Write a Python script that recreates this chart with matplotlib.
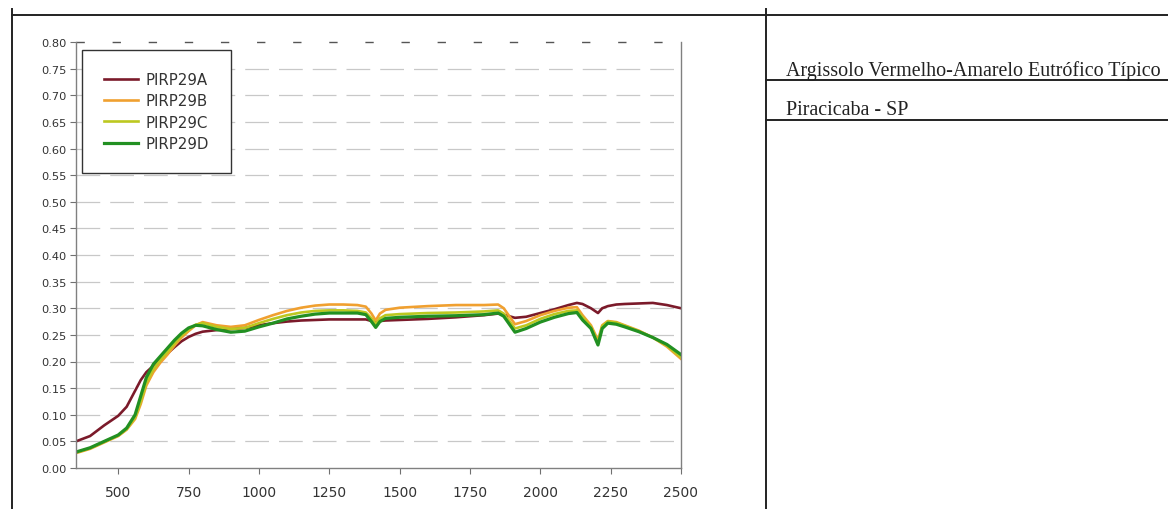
import matplotlib
matplotlib.use("Agg")
import matplotlib.pyplot as plt
from matplotlib.lines import Line2D

# ---------------- data ----------------
wavelength = [350, 400, 450, 500, 530, 560, 580, 600, 625, 650, 675, 700, 725, 750, 775, 800,
              850, 900, 950, 1000, 1050, 1100, 1150, 1200, 1250, 1300, 1350, 1380, 1400, 1415,
              1430, 1450, 1500, 1600, 1700, 1800, 1850, 1870, 1910, 1950, 2000, 2050, 2100, 2130,
              2150, 2180, 2205, 2220, 2240, 2270, 2300, 2350, 2400, 2450, 2500]

pirp29a = [0.050, 0.060, 0.080, 0.098, 0.115, 0.145, 0.165, 0.180, 0.192, 0.205, 0.215, 0.227,
           0.238, 0.246, 0.252, 0.256, 0.259, 0.261, 0.263, 0.268, 0.272, 0.275, 0.277, 0.278,
           0.279, 0.279, 0.279, 0.279, 0.276, 0.274, 0.276, 0.277, 0.278, 0.280, 0.283, 0.287,
           0.290, 0.288, 0.282, 0.284, 0.291, 0.298, 0.306, 0.310, 0.308, 0.300, 0.291, 0.300,
           0.304, 0.307, 0.308, 0.309, 0.310, 0.306, 0.300]

pirp29b = [0.028, 0.036, 0.048, 0.060, 0.072, 0.092, 0.120, 0.155, 0.180, 0.198, 0.213, 0.230,
           0.245, 0.257, 0.268, 0.274, 0.268, 0.265, 0.268, 0.278, 0.287, 0.295, 0.301, 0.305,
           0.307, 0.307, 0.306, 0.303, 0.290, 0.277, 0.290, 0.297, 0.301, 0.304, 0.306, 0.306,
           0.307, 0.300, 0.270, 0.276, 0.287, 0.295, 0.301, 0.302, 0.287, 0.268, 0.240, 0.268,
           0.276, 0.274, 0.268, 0.258, 0.245, 0.228, 0.205]

pirp29c = [0.029, 0.037, 0.049, 0.061, 0.073, 0.095, 0.125, 0.160, 0.186, 0.203, 0.218, 0.234,
           0.249, 0.260, 0.269, 0.272, 0.265, 0.261, 0.263, 0.272, 0.280, 0.287, 0.292, 0.295,
           0.296, 0.296, 0.295, 0.292, 0.281, 0.270, 0.281, 0.287, 0.289, 0.291, 0.292, 0.294,
           0.296, 0.290, 0.262, 0.268, 0.280, 0.289, 0.295, 0.296, 0.283, 0.265, 0.236, 0.266,
           0.275, 0.273, 0.267, 0.257, 0.245, 0.230, 0.208]

pirp29d = [0.030, 0.038, 0.050, 0.062, 0.075, 0.100, 0.135, 0.170, 0.195, 0.210, 0.225, 0.240,
           0.253, 0.263, 0.268, 0.267, 0.260, 0.255, 0.257, 0.265, 0.272, 0.280, 0.285, 0.289,
           0.291, 0.291, 0.291, 0.288, 0.275, 0.264, 0.275, 0.281, 0.283, 0.285, 0.286, 0.288,
           0.291, 0.285, 0.255, 0.262, 0.274, 0.283, 0.290, 0.292, 0.278, 0.262, 0.231, 0.262,
           0.272, 0.270, 0.265, 0.256, 0.245, 0.232, 0.213]

series_names = ["PIRP29A", "PIRP29B", "PIRP29C", "PIRP29D"]
series_values = [pirp29a, pirp29b, pirp29c, pirp29d]
series_colors = ["#7b1a2a", "#f0a030", "#bcc820", "#229022"]
series_widths = [1.9, 1.9, 1.9, 2.3]

x_ticks = [500, 750, 1000, 1250, 1500, 1750, 2000, 2250, 2500]
y_ticks = [0.00, 0.05, 0.10, 0.15, 0.20, 0.25, 0.30, 0.35, 0.40, 0.45, 0.50, 0.55, 0.60,
           0.65, 0.70, 0.75, 0.80]

soil_name = "Argissolo Vermelho-Amarelo Eutrófico Típico"
place_name = "Piracicaba - SP"

# ---------------- figure ----------------
W, H = 1168, 510
fig = plt.figure(figsize=(W / 100, H / 100), dpi=100)
fig.patch.set_facecolor("white")


def fx(px):
    return px / W


def fy(py):
    return 1 - py / H


ax = fig.add_axes([fx(76), fy(469), fx(681) - fx(76), fy(43) - fy(469)])

for name, vals, col, lw in zip(series_names, series_values, series_colors, series_widths):
    ax.plot(wavelength, vals, color=col, lw=lw, label=name, solid_joinstyle="round")

ax.set_xlim(350, 2500)
ax.set_ylim(0.0, 0.80)
ax.set_xticks(x_ticks)
ax.set_yticks(y_ticks)
ax.set_yticklabels([f"{v:.2f}" for v in y_ticks])
ax.tick_params(axis="y", direction="out", length=4, width=0.8, color="#707070",
               labelsize=8.2, labelcolor="#333333", pad=3)
ax.tick_params(axis="x", direction="out", length=4, width=0.8, color="#707070",
               labelsize=10, labelcolor="#333333", pad=8)

for side in ["left", "bottom", "right"]:
    ax.spines[side].set_color("#808080")
    ax.spines[side].set_linewidth(1.0)
ax.spines["top"].set_visible(False)

# dashed horizontal gridlines
for v in y_ticks[1:-1]:
    gl = ax.axhline(v, color="#c8c8c8", lw=0.9, zorder=0)
    gl.set_dashes([19, 8])
top = ax.axhline(0.80, color="#555555", lw=1.0, zorder=0, clip_on=False)
top.set_dashes([6, 20])

leg = ax.legend(loc="upper left", bbox_to_anchor=(fx(82), fy(51)),
                bbox_transform=fig.transFigure, borderaxespad=0,
                fancybox=False, framealpha=1, edgecolor="#333333",
                prop={"family": "DejaVu Sans", "size": 10.8},
                handlelength=2.3, handletextpad=0.5, labelspacing=0.43,
                borderpad=1.45)
leg.get_frame().set_linewidth(1.0)
for t in leg.get_texts():
    t.set_color("#333333")

# ---------------- page / table lines ----------------
line_kw = dict(color="#222222", lw=1.4, transform=fig.transFigure)
fig.add_artist(Line2D([fx(12), fx(1168)], [fy(16), fy(16)], **line_kw))
fig.add_artist(Line2D([fx(12), fx(12)], [fy(10), fy(510)], **line_kw))
fig.add_artist(Line2D([fx(766), fx(766)], [fy(10), fy(510)], **line_kw))
fig.add_artist(Line2D([fx(766), fx(1168)], [fy(81), fy(81)], **line_kw))
fig.add_artist(Line2D([fx(766), fx(1168)], [fy(121), fy(121)], **line_kw))

fig.text(fx(786), fy(76), soil_name, family="Liberation Serif", fontsize=14.4,
         color="#222222", va="baseline", ha="left")
fig.text(fx(786), fy(115), place_name, family="Liberation Serif", fontsize=14.4,
         color="#222222", va="baseline", ha="left")

fig.savefig("out.png", dpi=100, facecolor="white")
